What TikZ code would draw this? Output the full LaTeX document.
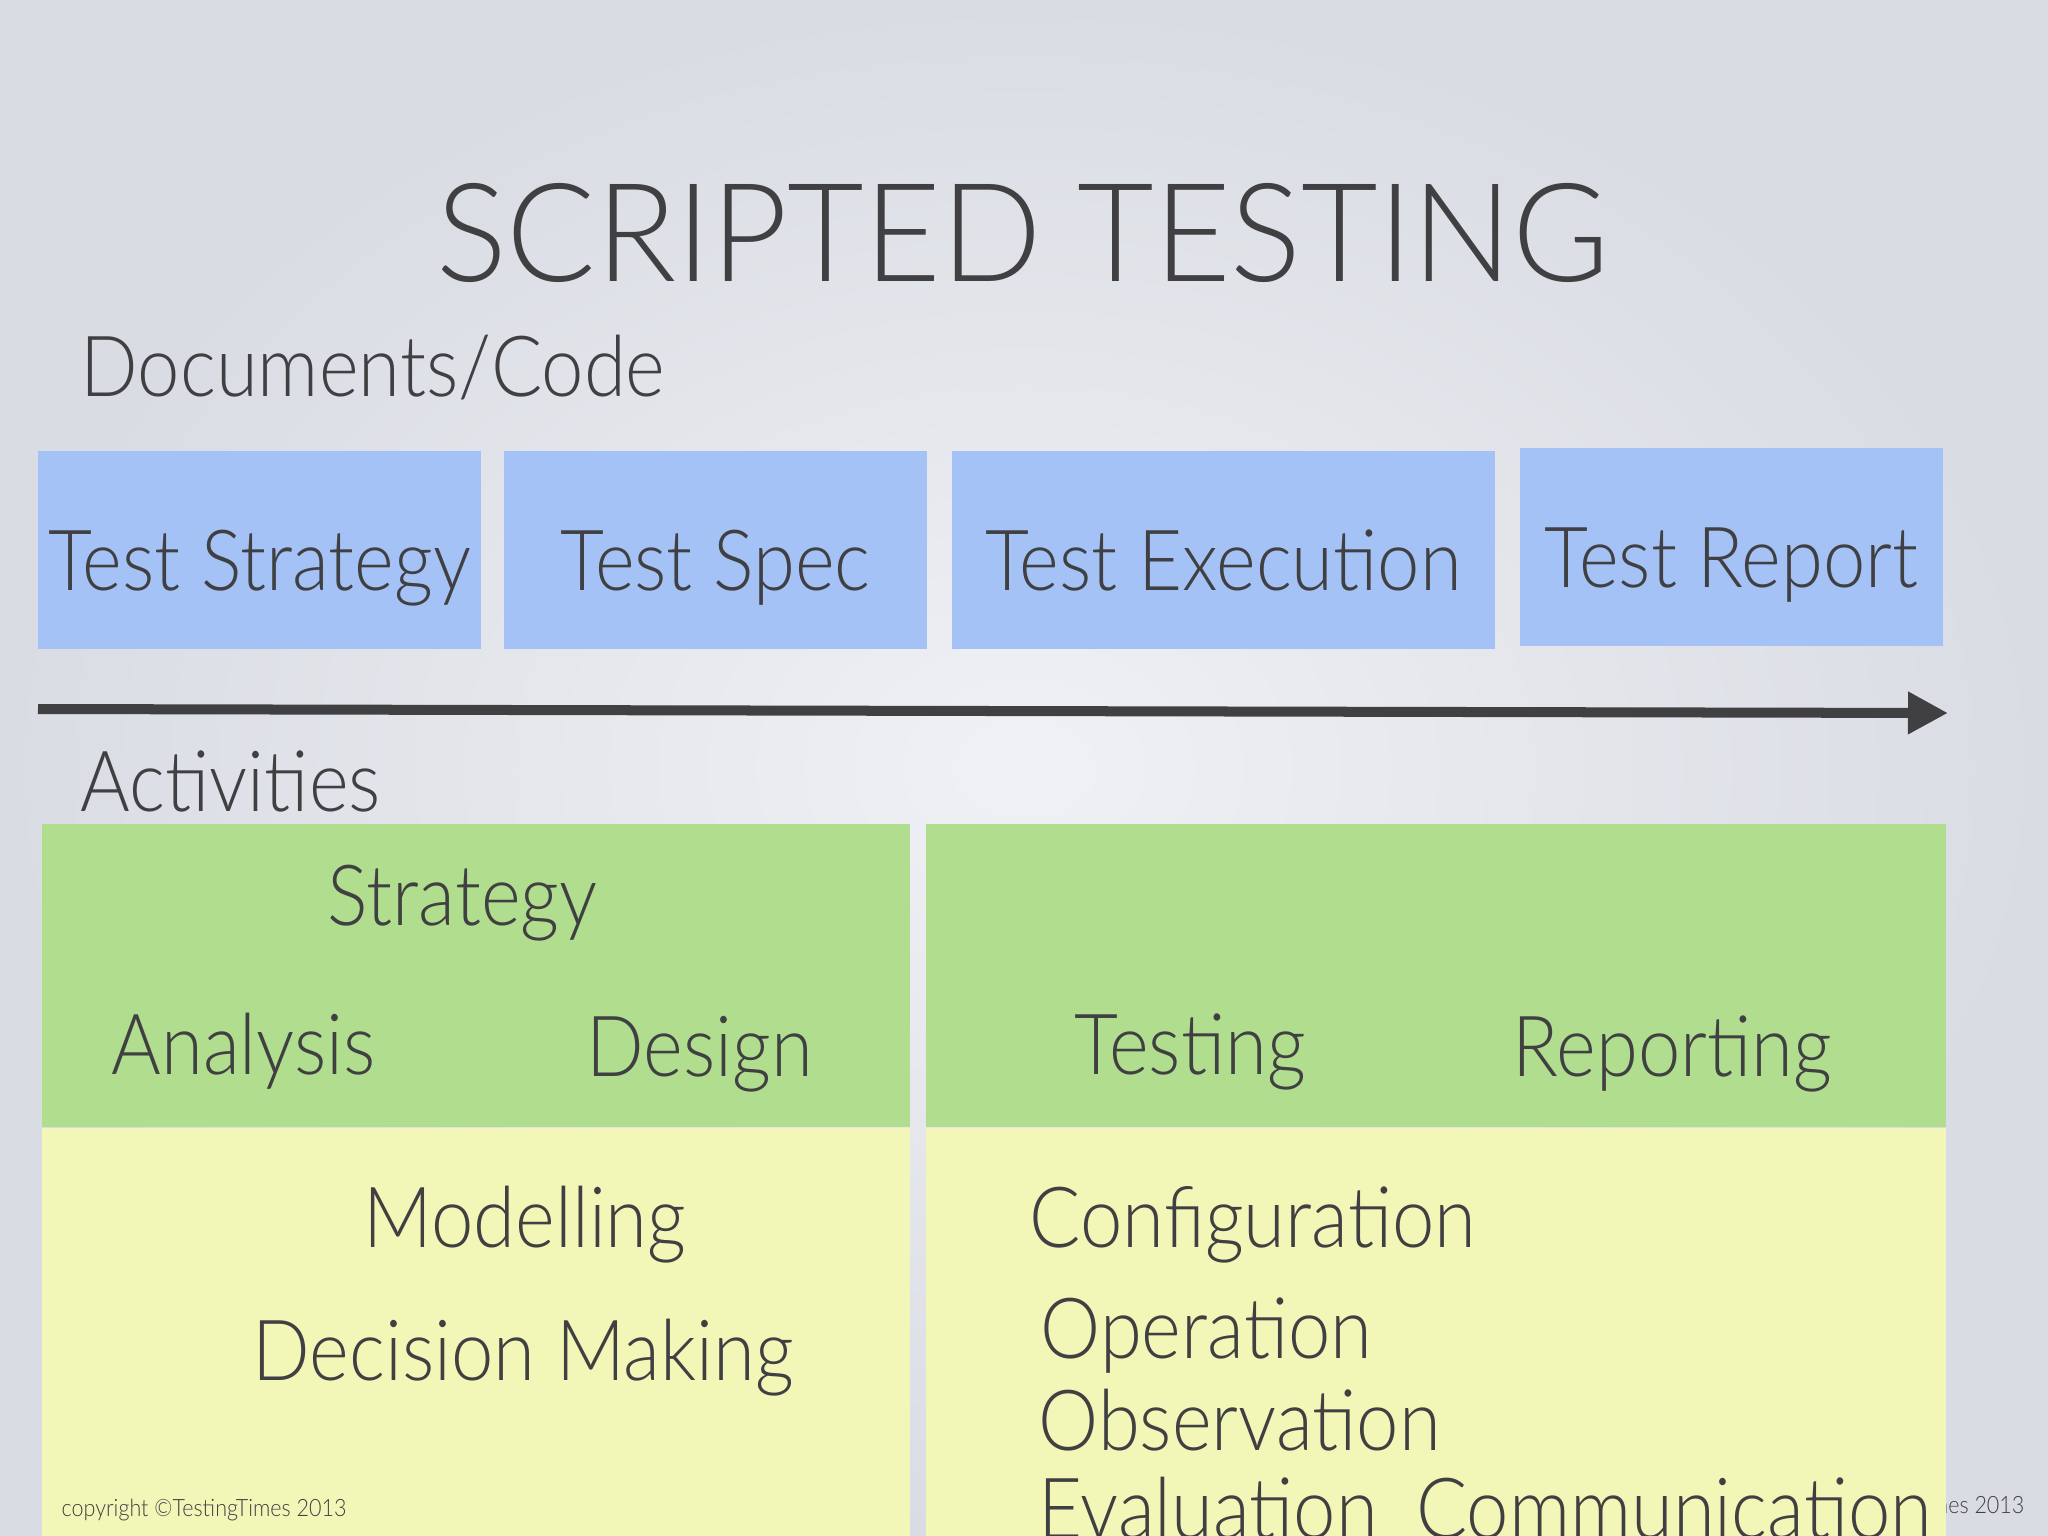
\documentclass[tikz,border=0pt]{standalone}
\usepackage{fontspec}
\setmainfont{Lato Light}[FakeStretch=0.9]
\newfontfamily\titlefont{Lato Light}[FakeStretch=0.965]
\usetikzlibrary{arrows.meta}
\definecolor{docblue}{RGB}{164,194,246}
\definecolor{actgreen}{RGB}{176,221,142}
\definecolor{actyellow}{RGB}{242,247,184}
\definecolor{ink}{RGB}{64,64,66}
\definecolor{bglight}{RGB}{240,241,245}
\definecolor{bgdark}{RGB}{217,220,227}

\begin{document}
\begin{tikzpicture}[x=0.01cm,y=-0.01cm,
    txt/.style={text=ink,inner sep=0,font=\fontsize{24}{28}\selectfont},
    docbox/.style={fill=docblue,inner sep=0,minimum height=1.98cm,text=ink,font=\fontsize{24}{28}\selectfont,text height=0.9cm,text depth=0.1cm},
    actbox/.style={inner sep=0,minimum width=#1*0.01cm}]
    \clip(0,0)rectangle(2048,1536);
    \shade[inner color=bglight,outer color=bgdark](0,0)rectangle(2048,1536);
    % title and headings
    \node[txt,anchor=base,font=\titlefont\fontsize{39}{44}\selectfont](title)at(1023,281){SCRIPTED TESTING};
    \node[txt,anchor=base west](docs)at(80,396){Documents/Code};
    \node[txt,anchor=base west](acts)at(80,811){Activities};
    % documents
    \foreach \n/\x/\y/\w/\t in{strat/259.5/550/443/Test Strategy,spec/715.5/550/423/Test Spec,exec/1223.5/550/543/Test Execution,report/1731.5/547/423/Test Report}
        \node[docbox,minimum width=\w*0.01cm](\n)at(\x,\y){\t};
    \coordinate(start)at(38,709);
    \coordinate(end)at(1948,713);
    \draw[ink,line width=0.1cm,-{Triangle[length=0.4cm,width=0.4cm]}](start)--(end);
    % hidden copyright behind the right block
    \node[txt,anchor=base east,font=\fontsize{6.8}{8}\selectfont](copyR)at(2025,1513){copyright \textcopyright TestingTimes 2013};
    % activity blocks
    \node[actbox=868,fill=actgreen,minimum height=3.03cm](greenL)at(476,975.5){};
    \node[actbox=1020,fill=actgreen,minimum height=3.03cm](greenR)at(1436,975.5){};
    \node[actbox=868,fill=actyellow,minimum height=4.2cm,anchor=north](yellowL)at(476,1127){};
    \node[actbox=1020,fill=actyellow,minimum height=4.2cm,anchor=north](yellowR)at(1436,1127){};
    \foreach \n/\x/\y/\t in{strategy/327/925/Strategy,analysis/111/1074/Analysis,design/586/1076/Design,testing/1074/1074/Testing,reporting/1512/1076/Reporting,modelling/363/1247/Modelling,deciding/252/1380/Decision Making,config/1029/1247/Configuration,operation/1040/1358/Operation,observe/1038/1450/Observation}
        \node[txt,anchor=base west](\n)at(\x,\y){\t};
    \node[txt,anchor=base west](evalcomm)at(1038,1538){Evaluation\hspace{0.38cm}Communication};
    \node[txt,anchor=base west,font=\fontsize{6.8}{8}\selectfont](copyL)at(61,1516){copyright \textcopyright TestingTimes 2013};
\end{tikzpicture}
\end{document}
